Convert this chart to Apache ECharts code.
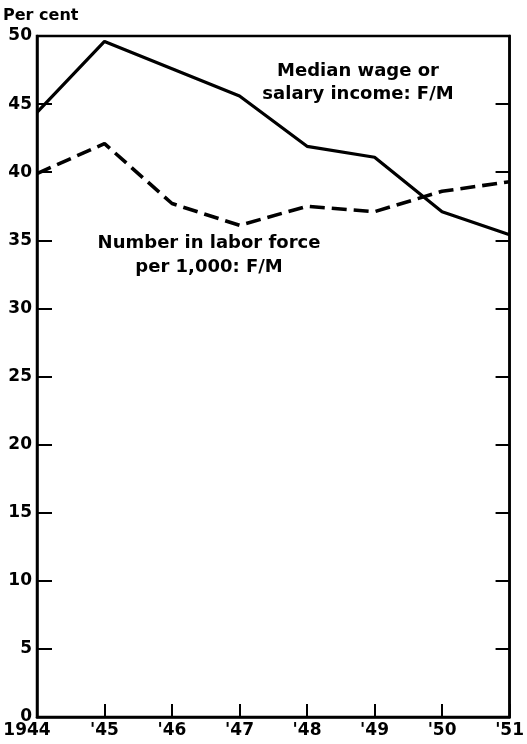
<!DOCTYPE html>
<html>
<head>
<meta charset="utf-8">
<script src="https://cdn.jsdelivr.net/npm/echarts@6/dist/echarts.min.js"></script>
<style>
  html, body { margin: 0; padding: 0; background: #fff; }
  #chart { width: 527px; height: 744px; }
</style>
</head>
<body>
<div id="chart"></div>
<script>
const years = ['1944', "'45", "'46", "'47", "'48", "'49", "'50", "'51"]
const wageRatio = [44.4, 49.6, 47.6, 45.6, 41.9, 41.1, 37.1, 35.4]
const laborRatio = [39.9, 42.1, 37.7, 36.1, 37.5, 37.1, 38.6, 39.3]

const font = 'DejaVu Sans'
const chart = echarts.init(document.getElementById('chart'))

const option = {
  animation: false,
  backgroundColor: '#fff',
  textStyle: { fontFamily: font, color: '#000' },
  grid: {
    left: 37, right: 12, top: 36, bottom: 27,
    show: true, borderColor: '#000', borderWidth: 2.5, backgroundColor: 'transparent'
  },
  graphic: [
    { type: 'text', x: 3, y: 8,
      style: { text: 'Per cent', font: 'bold 16px "DejaVu Sans"', fill: '#000' } },
    { type: 'text', x: 358, y: 60,
      style: { text: 'Median wage or\nsalary income: F/M', lineHeight: 23,
        font: 'bold 18px "DejaVu Sans"', fill: '#000', align: 'center', verticalAlign: 'top' } },
    { type: 'text', x: 209, y: 231,
      style: { text: 'Number in labor force\nper 1,000: F/M', lineHeight: 24,
        font: 'bold 18px "DejaVu Sans"', fill: '#000', align: 'center', verticalAlign: 'top' } }
  ],
  xAxis: {
    type: 'category',
    data: years,
    boundaryGap: false,
    axisLine: { lineStyle: { color: '#000', width: 2.5 } },
    axisTick: { inside: true, interval: 0, length: 13, lineStyle: { color: '#000', width: 2 } },
    axisLabel: {
      interval: 0, hideOverlap: false,
      color: '#000', fontSize: 17, fontWeight: 'bold', fontFamily: font, margin: 5,
      formatter: (v, i) => i === 0 ? '{first|' + v + '}' : v,
      rich: { first: { fontSize: 17, fontWeight: 'bold', fontFamily: font, color: '#000', padding: [0, 20, 0, 0] } }
    },
    splitLine: { show: false }
  },
  yAxis: [
    {
      type: 'value', min: 0, max: 50, interval: 5,
      axisLine: { show: true, lineStyle: { color: '#000', width: 2.5 } },
      axisTick: { show: true, inside: true, length: 15, lineStyle: { color: '#000', width: 2 } },
      axisLabel: { color: '#000', fontSize: 17, fontWeight: 'bold', fontFamily: font, margin: 5 },
      splitLine: { show: false }
    },
    {
      type: 'value', min: 0, max: 50, interval: 5, position: 'right',
      axisLine: { show: true, lineStyle: { color: '#000', width: 2.5 } },
      axisTick: { show: true, inside: true, length: 14, lineStyle: { color: '#000', width: 2 } },
      axisLabel: { show: false },
      splitLine: { show: false }
    }
  ],
  series: [
    {
      name: 'Median wage or salary income: F/M',
      type: 'line',
      data: wageRatio,
      symbol: 'none',
      lineStyle: { color: '#000', width: 3.2 }
    },
    {
      name: 'Number in labor force per 1,000: F/M',
      type: 'line',
      data: laborRatio,
      symbol: 'none',
      lineStyle: { color: '#000', width: 3.6, type: [15, 7] }
    }
  ]
}

chart.setOption(option)
</script>
</body>
</html>
